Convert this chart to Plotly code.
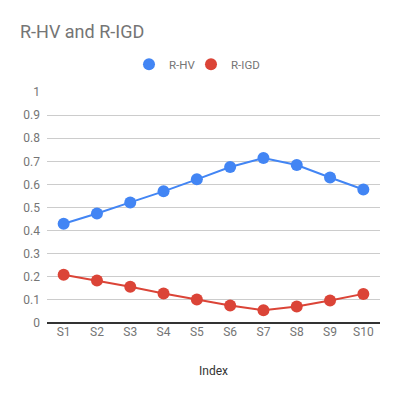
import plotly.graph_objects as go

categories = ["S1", "S2", "S3", "S4", "S5", "S6", "S7", "S8", "S9", "S10"]
r_hv = [0.43, 0.474, 0.522, 0.57, 0.622, 0.675, 0.714, 0.684, 0.63, 0.578]
r_igd = [0.209, 0.184, 0.157, 0.128, 0.102, 0.076, 0.055, 0.071, 0.097, 0.126]
y_ticks = [0, 0.1, 0.2, 0.3, 0.4, 0.5, 0.6, 0.7, 0.8, 0.9, 1]

BLUE = "#4285F4"
RED = "#DB4437"

L, R, T, B = 47, 20, 92, 74
PW = 400 - L - R

fig = go.Figure()
for name, vals, col in [("R-HV", r_hv, BLUE), ("R-IGD", r_igd, RED)]:
    fig.add_trace(go.Scatter(
        x=categories, y=vals, mode="lines+markers", name=name,
        line=dict(color=col, width=2),
        marker=dict(color=col, size=12),
        showlegend=False, hoverinfo="x+y",
    ))
for name, col, lg in [("R-HV", BLUE, "legend"), ("R-IGD", RED, "legend2")]:
    fig.add_trace(go.Scatter(
        x=[None], y=[None], mode="markers", name=name, legend=lg,
        marker=dict(color=col, size=12),
    ))

legend_common = dict(orientation="h", xanchor="left", y=1.12, yanchor="middle",
                     font=dict(size=11.5, color="#757575"), itemsizing="constant",
                     itemwidth=30, bgcolor="rgba(0,0,0,0)")

fig.update_layout(
    width=400, height=397, autosize=False,
    margin=dict(l=L, r=R, t=T, b=B, pad=0, autoexpand=False),
    paper_bgcolor="white", plot_bgcolor="white",
    font=dict(family="Roboto, Arial, sans-serif", size=12, color="#757575"),
    title=dict(text="R-HV and R-IGD", xref="container", yref="container",
               x=20 / 400, xanchor="left", y=1 - 32 / 397, yanchor="middle",
               pad=dict(l=0, r=0, t=0, b=0),
               font=dict(size=18, color="#757575"), automargin=False),
    legend=dict(x=(129 - L) / PW, **legend_common),
    legend2=dict(x=(191 - L) / PW, **legend_common),
    xaxis=dict(
        type="category", range=[-0.5, 9.5], showgrid=False, showline=False, zeroline=False,
        automargin=False, ticks="", tickfont=dict(size=12, color="#757575"),
        title=dict(text="Index", font=dict(size=12, color="#333333"), standoff=28),
    ),
    yaxis=dict(
        range=[0, 1], tickvals=y_ticks, showgrid=True, gridcolor="#cccccc", gridwidth=1,
        zeroline=True, zerolinecolor="#333333", zerolinewidth=1.5, automargin=False,
        showline=False, ticks="", ticklabelstandoff=6,
        tickfont=dict(size=12, color="#757575"),
    ),
)

fig.write_html("out.html", config={"displayModeBar": False},
               post_script="document.body.style.margin='0';")
